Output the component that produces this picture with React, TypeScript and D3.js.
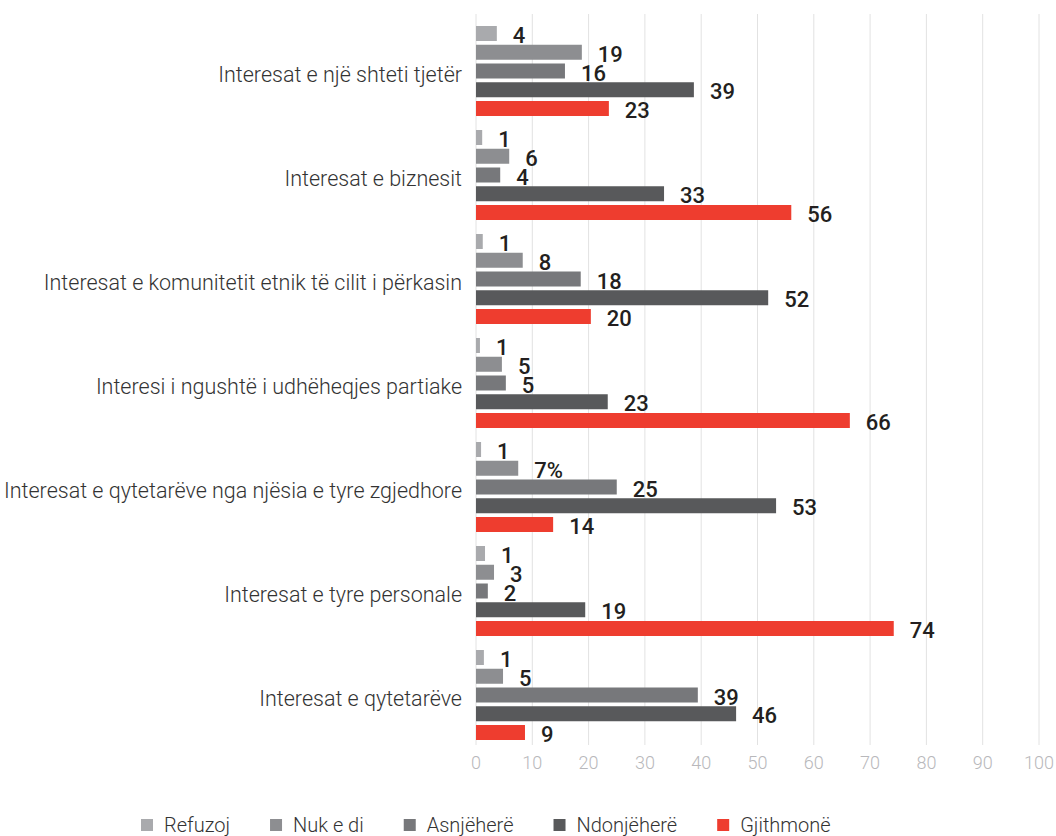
import React, { useEffect, useRef } from "react";
import * as d3 from "d3";

const categories = [
  "Interesat e një shteti tjetër",
  "Interesat e biznesit",
  "Interesat e komunitetit etnik të cilit i përkasin",
  "Interesi i ngushtë i udhëheqjes partiake",
  "Interesat e qytetarëve nga njësia e tyre zgjedhore",
  "Interesat e tyre personale",
  "Interesat e qytetarëve",
];

const seriesNames = ["Refuzoj", "Nuk e di", "Asnjëherë", "Ndonjëherë", "Gjithmonë"];
const seriesColors = ["#a9aaad", "#8d8e91", "#77787b", "#58595b", "#ee3d2f"];

// bar values (as drawn) per series, one per category
const refuzoj = [3.7, 1.1, 1.2, 0.7, 0.9, 1.6, 1.4];
const nukEDi = [18.8, 5.9, 8.3, 4.6, 7.5, 3.2, 4.8];
const asnjehere = [15.8, 4.3, 18.6, 5.3, 25, 2.1, 39.4];
const ndonjehere = [38.7, 33.4, 51.9, 23.4, 53.3, 19.4, 46.2];
const gjithmone = [23.6, 56, 20.4, 66.4, 13.7, 74.2, 8.7];

// printed labels
const refuzojLabels = ["4", "1", "1", "1", "1", "1", "1"];
const nukEDiLabels = ["19", "6", "8", "5", "7%", "3", "5"];
const asnjehereLabels = ["16", "4", "18", "5", "25", "2", "39"];
const ndonjehereLabels = ["39", "33", "52", "23", "53", "19", "46"];
const gjithmoneLabels = ["23", "56", "20", "66", "14", "74", "9"];

const xTicks = [0, 10, 20, 30, 40, 50, 60, 70, 80, 90, 100];

const seriesValues = [refuzoj, nukEDi, asnjehere, ndonjehere, gjithmone];
const seriesLabels = [refuzojLabels, nukEDiLabels, asnjehereLabels, ndonjehereLabels, gjithmoneLabels];

const W = 1056;
const H = 836;

export default function App() {
  const ref = useRef<SVGSVGElement>(null);

  useEffect(() => {
    const svg = d3.select(ref.current);
    svg.selectAll("*").remove();

    const x = d3.scaleLinear().domain([0, 100]).range([476, 1039]);
    const y = d3.scaleBand<string>().domain(categories).range([19, 747]).padding(0);
    const sub = d3
      .scaleBand<string>()
      .domain(seriesNames)
      .range([7, 97])
      .paddingInner(0.2)
      .paddingOuter(0);

    // gridlines
    svg
      .append("g")
      .selectAll("line")
      .data(xTicks)
      .join("line")
      .attr("x1", (d) => x(d))
      .attr("x2", (d) => x(d))
      .attr("y1", 14)
      .attr("y2", 745)
      .attr("stroke", "#e2e2e2")
      .attr("stroke-width", 1);

    // tick labels
    svg
      .append("g")
      .selectAll("text")
      .data(xTicks)
      .join("text")
      .attr("x", (d) => x(d))
      .attr("y", 762)
      .attr("text-anchor", "middle")
      .attr("dominant-baseline", "central")
      .attr("font-family", "Roboto")
      .attr("font-weight", 300)
      .attr("font-size", 18)
      .attr("fill", "#b8b8bb")
      .text((d) => String(d));

    // category labels
    svg
      .append("g")
      .selectAll("text")
      .data(categories)
      .join("text")
      .attr("x", 462)
      .attr("y", (d) => (y(d) as number) + y.bandwidth() / 2 + 3)
      .attr("text-anchor", "end")
      .attr("dominant-baseline", "central")
      .attr("font-family", "Roboto")
      .attr("font-weight", 300)
      .attr("font-size", 21.5)
      .attr("fill", "#333333")
      .text((d) => d);

    // bars
    const groups = svg
      .append("g")
      .selectAll("g")
      .data(categories)
      .join("g")
      .attr("transform", (d) => `translate(0,${y(d)})`);

    groups.each(function (cat, ci) {
      const g = d3.select(this);
      seriesNames.forEach((s, si) => {
        const v = seriesValues[si][ci];
        const yy = sub(s) as number;
        g.append("rect")
          .attr("x", x(0))
          .attr("y", yy)
          .attr("width", x(v) - x(0))
          .attr("height", sub.bandwidth())
          .attr("fill", seriesColors[si]);
      });
      seriesNames.forEach((s, si) => {
        const v = seriesValues[si][ci];
        const yy = sub(s) as number;
        g.append("text")
          .attr("x", x(v) + 16)
          .attr("y", yy + sub.bandwidth() / 2 + 2)
          .attr("dominant-baseline", "central")
          .attr("font-family", "Roboto")
          .attr("font-weight", 500)
          .attr("font-size", 22)
          .attr("fill", "#231f20")
          .text(seriesLabels[si][ci]);
      });
    });

    // legend
    const legend = svg.append("g");
    let cx = 0;
    const items: { g: any; w: number }[] = [];
    seriesNames.forEach((s, si) => {
      const g = legend.append("g");
      g.append("rect")
        .attr("x", 0)
        .attr("y", -6)
        .attr("width", 12)
        .attr("height", 12)
        .attr("fill", seriesColors[si]);
      const t = g
        .append("text")
        .attr("x", 23)
        .attr("y", 0)
        .attr("dominant-baseline", "central")
        .attr("font-family", "Roboto")
        .attr("font-weight", 300)
        .attr("font-size", 20)
        .attr("fill", "#333333")
        .text(s);
      const tw = (t.node() as SVGTextElement).getComputedTextLength();
      items.push({ g, w: 23 + tw });
    });
    const gap = 40;
    items.forEach((it) => {
      it.g.attr("transform", `translate(${cx},0)`);
      cx += it.w + gap;
    });
    legend.attr("transform", `translate(${141},825)`);
  }, []);

  return (
    <svg
      ref={ref}
      width={W}
      height={H}
      style={{ position: "absolute", left: 0, top: 0, background: "#fff" }}
    />
  );
}
